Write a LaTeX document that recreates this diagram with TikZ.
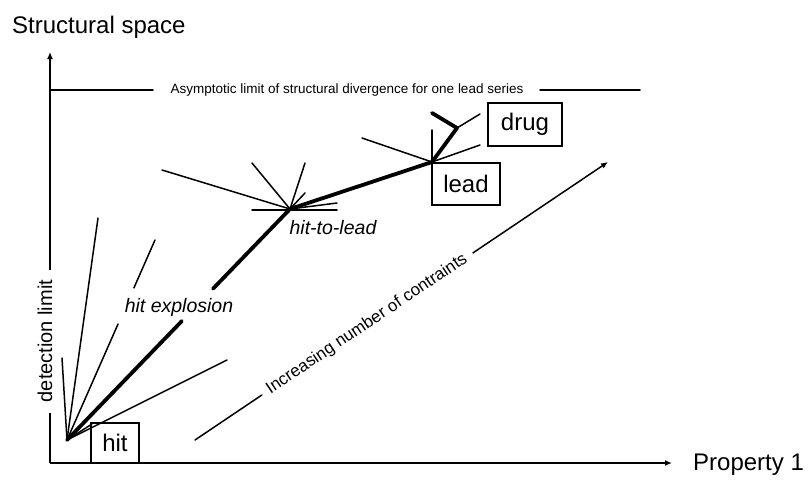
\documentclass[tikz,border=0pt]{standalone}
\usepackage{fontspec}
\setmainfont{Liberation Sans}
\usetikzlibrary{arrows.meta,calc}
\newcommand{\fsz}[1]{\fontsize{#1}{#1}\selectfont}
\tikzset{
  thinln/.style={line width=1.5pt, line cap=round},
  thickln/.style={line width=3.8pt, line cap=round},
  axisln/.style={line width=1.8pt},
  tip/.style={-{Latex[length=7pt,width=6pt]}},
  boxlbl/.style={draw, line width=1.5pt, inner sep=0pt, font=\fsz{24}},
  txt/.style={inner sep=0pt}
}
\begin{document}
\begin{tikzpicture}[x=1pt,y=-1pt]
\useasboundingbox (0,0) rectangle (808,480);
% key points
\coordinate (orig) at (50,463);
\coordinate (ytop) at (50,52);
\coordinate (xend) at (672,463);
\coordinate (ygapA) at (50,413);
\coordinate (ygapB) at (50,270);
\coordinate (hitpt) at (67,440);
\coordinate (h2l) at (290,209);
\coordinate (leadpt) at (432,162);
\coordinate (bend) at (457,128);
\coordinate (ytip) at (432,113);
% titles
\node[txt, anchor=base west, font=\fsz{24}] (title) at (12,33) {Structural space};
\node[txt, anchor=base west, font=\fsz{24}] (prop) at (693,470) {Property 1};
% axes
\draw[axisln, tip] (ygapB) -- (ytop);
\draw[axisln] (orig) -- (ygapA);
\draw[axisln, tip] (orig) -- (xend);
\node[txt, rotate=90, font=\fsz{20}] (det) at (45,341) {detection limit};
% asymptotic limit
\coordinate (asA) at (50,90);
\coordinate (asB) at (153,90);
\coordinate (asC) at (540,90);
\coordinate (asD) at (640,90);
\draw[thinln] (asA) -- (asB);
\draw[thinln] (asC) -- (asD);
\node[txt, font=\fsz{13.5}] (asym) at (347,90) {Asymptotic limit of structural divergence for one lead series};
% boxes
\node[boxlbl, minimum width=48pt, minimum height=40pt] (hit) at (115,443) {hit};
\node[boxlbl, minimum width=68pt, minimum height=42pt] (lead) at (466,184) {lead};
\node[boxlbl, minimum width=74pt, minimum height=43pt] (drug) at (525,124.5) {drug};
% hit fan
\coordinate (f1) at (62,358);
\coordinate (f2) at (98,218);
\coordinate (f3) at (155,240);
\coordinate (f4) at (227,360);
\coordinate (f5) at (92,424);
\draw[thinln] (hitpt) -- (f1);
\draw[thinln] (hitpt) -- (f2);
\draw[thinln] (hitpt) -- ($(hitpt)!0.58!(f3)$);
\draw[thinln] ($(hitpt)!0.76!(f3)$) -- (f3);
\draw[thinln] (hitpt) -- (f4);
\draw[thinln] (hitpt) -- (f5);
% main thick path
\draw[thickln] (hitpt) -- ($(hitpt)!0.515!(h2l)$);
\draw[thickln] ($(hitpt)!0.655!(h2l)$) -- (h2l);
\node[txt, font=\fsz{19.5}\itshape] (hexp) at (179,307) {hit explosion};
% hit-to-lead star
\coordinate (s1) at (162,170);
\coordinate (s2) at (252,163);
\coordinate (s3) at (305,163);
\coordinate (s4) at (305,193);
\coordinate (s5) at (252,210);
\coordinate (s6) at (337,210);
\coordinate (s7) at (337,203);
\draw[thinln] (h2l) -- (s1);
\draw[thinln] (h2l) -- (s2);
\draw[thinln] (h2l) -- (s3);
\draw[thinln] (h2l) -- (s4);
\draw[thinln] (s5) -- (s6);
\draw[thinln] (h2l) -- (s7);
\draw[thickln] (h2l) -- (leadpt);
\node[txt, font=\fsz{19.5}\itshape] (h2ltxt) at (333,228) {hit-to-lead};
% lead star
\coordinate (l1) at (362,138);
\coordinate (l2) at (432,130);
\coordinate (l3) at (480,145);
\coordinate (l4) at (480,114);
\draw[thinln] (leadpt) -- (l1);
\draw[thinln] (leadpt) -- (l2);
\draw[thinln] (leadpt) -- (l3);
\draw[thinln] (bend) -- (l4);
\draw[thickln, line join=round] (leadpt) -- (bend) -- (ytip);
% increasing constraints arrow
\coordinate (incA) at (195,440);
\coordinate (incB) at (608,162);
\draw[thinln] (incA) -- ($(incA)!0.162!(incB)$);
\draw[thinln, tip] ($(incA)!0.673!(incB)$) -- (incB);
\node[txt, rotate=33.9, font=\fsz{17}] (inc) at ($(incA)!0.4165!(incB)$) {Increasing number of contraints};
\end{tikzpicture}
\end{document}
